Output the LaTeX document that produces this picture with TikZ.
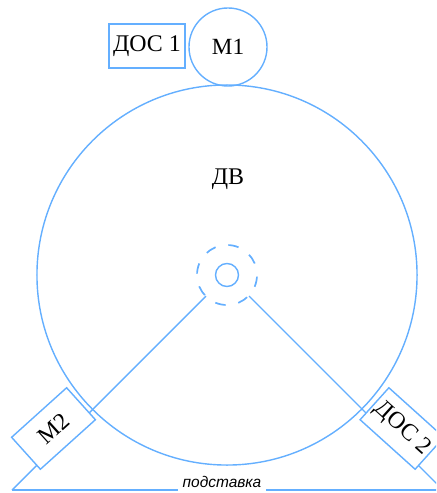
\documentclass[tikz,border=0pt]{standalone}
\usepackage{fontspec}
\setmainfont{Liberation Serif}
\setsansfont{Liberation Sans}
\usetikzlibrary{positioning}
\definecolor{lineblue}{RGB}{100,175,255}
\tikzset{
    wheel/.style={circle, draw=lineblue, line width=1pt, inner sep=0pt},
    sensor/.style={rectangle, draw=lineblue, fill=white, line width=1pt, inner sep=0pt, minimum width=1.85cm, minimum height=1.075cm, font=\fontsize{17}{20}\selectfont},
    leg/.style={draw=lineblue, line width=1pt},
    base/.style={draw=lineblue, line width=2pt}
}

\begin{document}
\begin{tikzpicture}[x=0.025cm, y=-0.025cm]
    \clip (0,0) rectangle (436,493);
    \path[use as bounding box] (0,0) rectangle (436,493);

    % big wheel
    \node[wheel, minimum size=9.5cm] (dv) at (227,275) {};
    \node[font=\fontsize{17}{20}\selectfont] (dvtext) at (228,179) {ДВ};
    \node[wheel, minimum size=1.95cm, font=\fontsize{16.5}{20}\selectfont] (m1) at (228,47) {М1};
    \node[sensor, minimum width=1.9cm, minimum height=1.1cm, line width=1.2pt] (dos1) at (147,46) {ДОС 1};

    % hub
    \node[wheel, minimum size=0.575cm] (hub) at (227,275) {};
    \draw[lineblue, line width=1.2pt, dash pattern=on 0.2625cm off 0.325cm, dash phase=0.2925cm] (hub.center) circle (0.75cm);

    % stand
    \coordinate (apexl) at (206,296);
    \coordinate (apexr) at (249,296);
    \coordinate (footl) at (12,490);
    \coordinate (footr) at (443,490);
    \draw[leg] (footl) -- (apexl);
    \draw[leg] (footr) -- (apexr);
    \node[sensor, rotate=42] (m2) at (53.5,428.5) {М2};
    \node[sensor, rotate=-42] (dos2) at (402,428.5) {ДОС 2};

    % base
    \node[font=\sffamily\itshape\fontsize{11}{12}\selectfont] (stand) at (222,482) {подставка};
    \draw[base] (footl) -- (footl -| stand.west);
    \draw[base] (footl -| stand.east) -- (footr);
\end{tikzpicture}
\end{document}
